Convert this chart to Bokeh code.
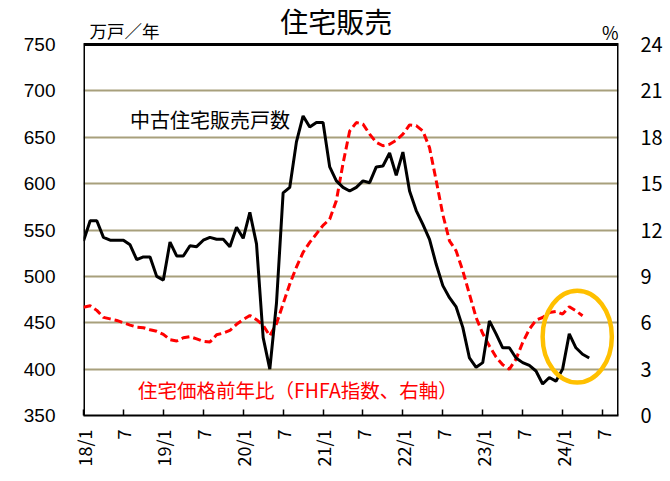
import numpy as np
from bokeh.plotting import figure
from bokeh.models import Range1d, LinearAxis, FixedTicker, Label
from bokeh.embed import file_html
from bokeh.resources import INLINE

# ---- data -------------------------------------------------------------
# month labels 2018/1 .. 2024/5
months = [f"{y}/{m}" for y in range(2018, 2025) for m in range(1, 13)][:77]

# existing home sales, 10k units / year (SAAR), 2018/1 .. 2024/5
sales = [538, 560, 560, 542, 539, 539, 539, 534, 518, 521, 521, 500,
         496, 537, 522, 522, 533, 532, 539, 542, 540, 540, 532, 553,
         541, 569, 535, 434, 400, 471, 590, 596, 645, 673, 661, 666,
         666, 618, 603, 596, 592, 596, 603, 601, 618, 619, 633, 609,
         634, 592, 571, 556, 540, 513, 490, 477, 467, 445, 412, 402,
         407, 452, 438, 423, 423, 412, 407, 404, 398, 384, 391, 387,
         400, 438, 423, 416, 412]

# FHFA house price index, % y/y, 2018/1 .. 2024/4
hpi = [7.0, 7.1, 6.8, 6.35, 6.25, 6.15, 6.0, 5.85, 5.72, 5.68, 5.55, 5.45,
       5.25, 4.9, 4.82, 5.03, 5.1, 4.96, 4.8, 4.75, 5.22, 5.33, 5.5, 5.9,
       6.2, 6.47, 6.2, 5.83, 5.15, 5.93, 7.23, 8.5, 9.6, 10.55, 11.2, 11.75,
       12.3, 12.7, 13.9, 16.3, 18.4, 18.95, 18.85, 18.2, 17.67, 17.45, 17.55, 17.8,
       18.2, 18.8, 18.75, 18.4, 17.33, 15.2, 13.0, 11.3, 10.65, 9.36, 7.85, 6.34,
       5.3, 4.5, 3.78, 3.28, 3.0, 3.65, 4.72, 5.58, 6.17, 6.34, 6.66, 6.73,
       6.56, 7.03, 6.77, 6.45]

x_ticks = list(range(0, 79, 6))
x_tick_labels = ["18/1", "7", "19/1", "7", "20/1", "7", "21/1", "7",
                 "22/1", "7", "23/1", "7", "24/1", "7"]
left_ticks = list(range(350, 751, 50))
right_ticks = list(range(0, 25, 3))

# axis extents
x_min, x_max = 0, 80.4
y_min, y_max = 350, 750
pct_min, pct_max = 0, 24

# highlight ellipse (month index, value, width in months, height in units)
hl_x, hl_y, hl_w, hl_h = 74.2, 435, 10.4, 99

x_sales = list(range(len(sales)))
x_hpi = list(range(len(hpi)))

# ---- figure -----------------------------------------------------------
# the frame is extended upwards (head room) so that the title and the unit
# texts above the plotting box can be drawn as labels
frame_h = 371.0            # pixel height of the 350..750 box
head_px = 44.0             # pixels above the box
y_top = y_max + (y_max - y_min) * head_px / frame_h
pct_top = pct_min + (pct_max - pct_min) * (y_top - y_min) / (y_max - y_min)

p = figure(width=670, height=481, output_backend="svg", toolbar_location=None,
           x_range=Range1d(x_min, x_max), y_range=Range1d(y_min, y_top),
           min_border_left=83, min_border_right=52, min_border_top=0,
           min_border_bottom=66)
p.extra_y_ranges = {"pct": Range1d(pct_min, pct_top)}
p.background_fill_color = "white"
p.border_fill_color = "white"
p.outline_line_color = None

p.xgrid.visible = False
p.ygrid.ticker = FixedTicker(ticks=left_ticks)
p.ygrid.grid_line_color = "#A8A07C"
p.ygrid.grid_line_width = 2

xa = p.xaxis[0]
xa.ticker = FixedTicker(ticks=x_ticks)
xa.major_label_overrides = {t: l for t, l in zip(x_ticks, x_tick_labels)}
xa.major_label_orientation = np.pi / 2
xa.major_tick_in = 6
xa.major_tick_out = 0
xa.major_tick_line_width = 1.5
xa.minor_tick_line_color = None
xa.axis_line_width = 2
xa.major_label_text_font = "Noto Sans CJK JP"
xa.major_label_text_font_size = "18px"
xa.major_label_text_color = "black"
xa.major_label_standoff = 14

ya = p.yaxis[0]
ya.ticker = FixedTicker(ticks=left_ticks)
ya.major_tick_line_color = None
ya.minor_tick_line_color = None
ya.axis_line_color = None
ya.major_label_text_font = "Liberation Sans"
ya.major_label_text_font_size = "19px"
ya.major_label_text_color = "black"
ya.major_label_standoff = 22

ra = LinearAxis(y_range_name="pct", ticker=FixedTicker(ticks=right_ticks))
ra.major_tick_line_color = None
ra.minor_tick_line_color = None
ra.axis_line_color = None
ra.major_label_text_font = "Noto Sans CJK JP"
ra.major_label_text_font_size = "20px"
ra.major_label_text_color = "black"
ra.major_label_standoff = 16
p.add_layout(ra, "right")

# plotting box border (left, top, right)
p.line([x_min, x_min, x_max, x_max], [y_min, y_max, y_max, y_min],
       line_color="black", line_width=3)

# ---- glyphs -----------------------------------------------------------
p.line(x_hpi, hpi, y_range_name="pct", line_color="#FF0000", line_width=3,
       line_dash="8 4")
p.line(x_sales, sales, line_color="black", line_width=3)
p.ellipse(x=[hl_x], y=[hl_y], width=[hl_w], height=[hl_h],
          fill_color=None, line_color="#FFC000", line_width=4.5)

# ---- texts ------------------------------------------------------------
cjk = "Noto Sans CJK JP"
p.add_layout(Label(x=38.0, y=775.5, text="住宅販売", text_font=cjk,
                   text_font_size="28px", text_align="center",
                   text_baseline="middle", text_color="black"))
p.add_layout(Label(x=0.9, y=765, text="万戸／年", text_font=cjk,
                   text_font_size="17.5px", text_align="left",
                   text_baseline="middle", text_color="black"))
p.add_layout(Label(x=x_max, y=764, text="%", text_font=cjk,
                   text_font_size="18px", text_align="right",
                   text_baseline="middle", text_color="black"))
p.add_layout(Label(x=7.0, y=669.5, text="中古住宅販売戸数", text_font=cjk,
                   text_font_size="20px", text_align="left",
                   text_baseline="middle", text_color="black"))
p.add_layout(Label(x=8.2, y=378, text="住宅価格前年比（FHFA指数、右軸）",
                   text_font=cjk, text_font_size="19.5px", text_align="left",
                   text_baseline="middle", text_color="#FF0000"))

open("out.html", "w").write(file_html(p, INLINE))
